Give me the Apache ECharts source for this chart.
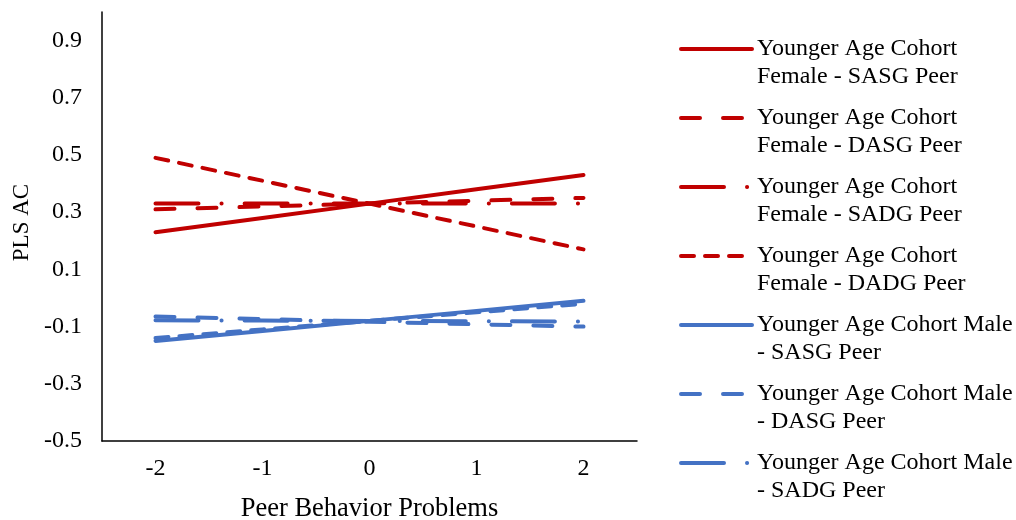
<!DOCTYPE html>
<html>
<head>
<meta charset="utf-8">
<script src="https://cdn.jsdelivr.net/npm/echarts@6/dist/echarts.min.js"></script>
<style>
html,body{margin:0;padding:0;background:#fff;}
#chart{width:1016px;height:520px;}
</style>
</head>
<body>
<div id="chart"></div>
<script>
// ---- data ----
var categories = ['-2', '-1', '0', '1', '2'];
var yTickLabels = ['-0.5', '-0.3', '-0.1', '0.1', '0.3', '0.5', '0.7', '0.9'];

var femaleSASG = [0.23, 0.28, 0.33, 0.38, 0.43];
var femaleDASG = [0.31, 0.32, 0.33, 0.34, 0.35];
var femaleSADG = [0.33, 0.33, 0.33, 0.33, 0.33];
var femaleDADG = [0.49, 0.41, 0.33, 0.25, 0.17];
var maleSASG   = [-0.15, -0.115, -0.08, -0.045, -0.01];
var maleDASG   = [-0.065, -0.074, -0.083, -0.092, -0.10];
var maleSADG   = [-0.078, -0.079, -0.080, -0.081, -0.082];
var maleDADG   = [-0.14, -0.11, -0.08, -0.05, -0.02];

var seriesNames = [
  'Younger Age Cohort Female - SASG Peer',
  'Younger Age Cohort Female - DASG Peer',
  'Younger Age Cohort Female - SADG Peer',
  'Younger Age Cohort Female - DADG Peer',
  'Younger Age Cohort Male - SASG Peer',
  'Younger Age Cohort Male - DASG Peer',
  'Younger Age Cohort Male - SADG Peer',
  'Younger Age Cohort Male - DADG Peer'
];
var legendLabels = [
  'Younger Age Cohort\nFemale - SASG Peer',
  'Younger Age Cohort\nFemale - DASG Peer',
  'Younger Age Cohort\nFemale - SADG Peer',
  'Younger Age Cohort\nFemale - DADG Peer',
  'Younger Age Cohort Male\n- SASG Peer',
  'Younger Age Cohort Male\n- DASG Peer',
  'Younger Age Cohort Male\n- SADG Peer',
  'Younger Age Cohort Male\n- DADG Peer'
];
var seriesData = [femaleSASG, femaleDASG, femaleSADG, femaleDADG, maleSASG, maleDASG, maleSADG, maleDADG];

// ---- styles ----
var RED = '#C00000', BLUE = '#4472C4';
var colors = [RED, RED, RED, RED, BLUE, BLUE, BLUE, BLUE];
var dashes = ['solid', [19, 23], [43, 23, 0.1, 23], [13, 11], 'solid', [19, 23], [43, 23, 0.1, 23], [13, 11]];
var FONT = '"Liberation Serif", "Times New Roman", serif';

var series = seriesData.map(function (d, i) {
  return {
    name: seriesNames[i],
    type: 'line',
    data: d,
    symbol: 'none',
    showSymbol: false,
    legendIcon: 'none',
    z: 10 - i,
    animation: false,
    color: colors[i],
    itemStyle: { color: colors[i] },
    lineStyle: { color: colors[i], width: 4, type: dashes[i], cap: 'round', join: 'round' }
  };
});

var chart = echarts.init(document.getElementById('chart'), null, { renderer: 'canvas' });
chart.setOption({
  animation: false,
  backgroundColor: '#fff',
  textStyle: { fontFamily: FONT, color: '#000' },
  grid: { left: 102, right: 379, top: 12, bottom: 79, containLabel: false, outerBoundsMode: 'none' },
  xAxis: {
    type: 'category',
    data: categories,
    boundaryGap: true,
    axisLine: { onZero: false, lineStyle: { color: '#000', width: 1.5 } },
    axisTick: { show: false },
    axisLabel: { color: '#000', fontFamily: FONT, fontSize: 24, margin: 16 },
    splitLine: { show: false },
    name: 'Peer Behavior Problems',
    nameLocation: 'middle',
    nameGap: 55,
    nameTextStyle: { color: '#000', fontFamily: FONT, fontSize: 26.5 }
  },
  yAxis: {
    type: 'value',
    min: -0.5,
    max: 1.0,
    interval: 0.1,
    axisLine: { show: true, lineStyle: { color: '#000', width: 1.5 } },
    axisTick: { show: false },
    splitLine: { show: false },
    axisLabel: {
      color: '#000', fontFamily: FONT, fontSize: 24, margin: 20,
      formatter: function (v) {
        var s = (Math.round(v * 10) / 10).toFixed(1);
        return yTickLabels.indexOf(s) >= 0 ? s : '';
      }
    },
    name: 'PLS AC',
    nameLocation: 'middle',
    nameGap: 68,
    nameTextStyle: { color: '#000', fontFamily: FONT, fontSize: 23, padding: [0, 0, 0, 8] }
  },
  legend: {
    orient: 'vertical',
    left: 679,
    top: 7,
    itemWidth: 71,
    itemHeight: 14,
    itemGap: -15,
    padding: 0,
    data: seriesNames.slice(0, 7),
    selectedMode: false,
    itemStyle: { opacity: 0, borderWidth: 0 },
    lineStyle: { width: 4, cap: 'round' },
    textStyle: { color: '#000', fontFamily: FONT, fontSize: 24, lineHeight: 28 },
    formatter: function (name) {
      return '\n' + legendLabels[seriesNames.indexOf(name)];
    }
  },
  series: series
});
</script>
</body>
</html>
